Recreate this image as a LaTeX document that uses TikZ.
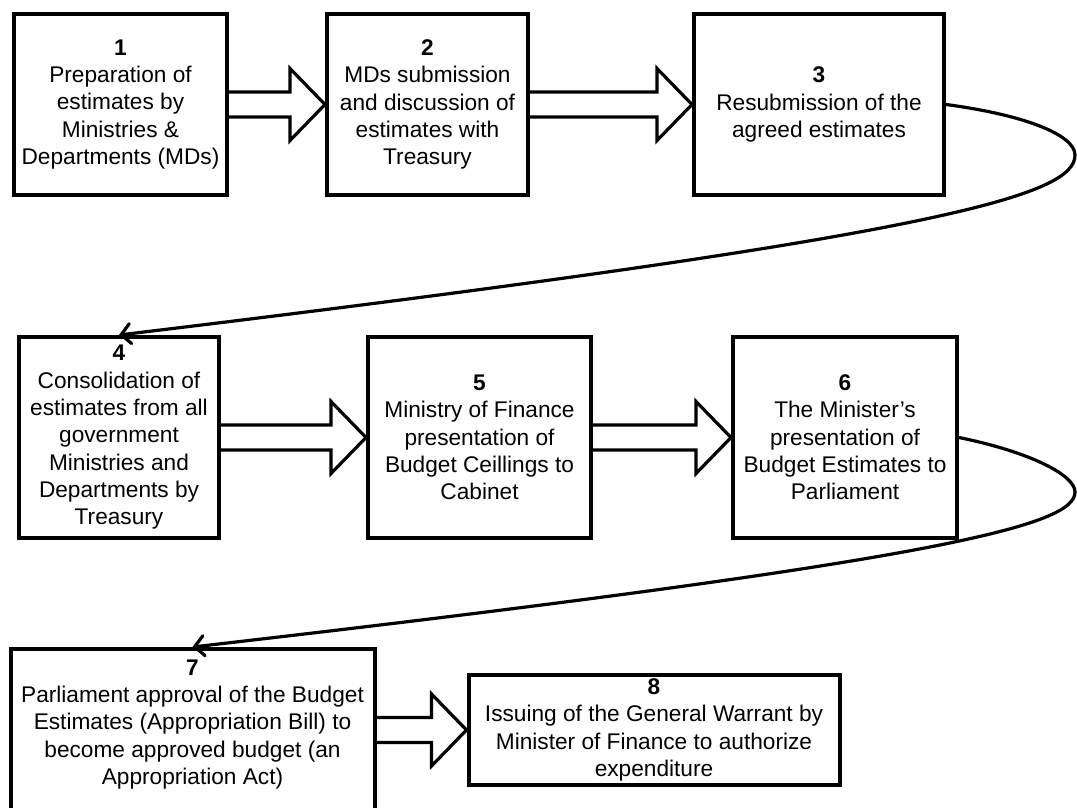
\documentclass[tikz,border=0pt]{standalone}
\usepackage{fontspec}
\setmainfont{Liberation Sans}
\usepackage{tikz}
\usetikzlibrary{positioning,calc,arrows.meta}
\tikzset{
  stage/.style={draw=black,line width=3pt,align=center,inner sep=2pt,
    font=\fontsize{17}{20.5}\selectfont},
  toprow/.style={stage,minimum height=135.75pt},
  midrow/.style={stage,minimum height=150.75pt},
  fatarrow/.style={draw=black,line width=2.4pt,line join=miter},
  loopback/.style={draw=black,line width=2.4pt,line cap=round,
    -{Straight Barb[length=7pt,width=15pt,line cap=round]}}
}
\newcommand{\blockarrow}[2]{%
  \draw[fatarrow] ($(#1.east |- #2.west)+(0,12.5)$) -- ($(#2.west)+(-35,12.5)$)
    -- ($(#2.west)+(-35,36)$) -- (#2.west) -- ($(#2.west)+(-35,-36)$)
    -- ($(#2.west)+(-35,-12.5)$) -- ($(#1.east |- #2.west)+(0,-12.5)$);}

\begin{document}
\begin{tikzpicture}[x=0.75pt,y=-0.75pt]
  \useasboundingbox (0,0) rectangle (1077,807);
  \clip (0,0) rectangle (1077,807);
  \node[toprow,minimum width=159.75pt] (b1) at (120.5,104.5)
    {\textbf{1}\\Preparation of\\estimates by\\Ministries \&\\Departments (MDs)};
  \node[toprow,minimum width=150.75pt,right=72pt of b1] (b2)
    {\textbf{2}\\MDs submission\\and discussion of\\estimates with\\Treasury};
  \node[toprow,minimum width=187.5pt,right=121.5pt of b2] (b3)
    {\textbf{3}\\Resubmission of the\\agreed estimates};
  \node[midrow,minimum width=150pt] (b4) at (119,437.5)
    {\textbf{4}\\Consolidation of\\estimates from all\\government\\Ministries and\\Departments by\\Treasury};
  \node[midrow,minimum width=167.25pt,right=108.75pt of b4] (b5)
    {\textbf{5}\\Ministry of Finance\\presentation of\\Budget Ceillings to\\Cabinet};
  \node[midrow,minimum width=168pt,right=103.5pt of b5] (b6)
    {\textbf{6}\\The Minister’s\\presentation of\\Budget Estimates to\\Parliament};
  \node[stage,anchor=north,minimum width=273pt,inner ysep=8pt,text depth=60pt] (b7) at (192.5,647)
    {\textbf{7}\\Parliament approval of the Budget\\Estimates (Appropriation Bill) to\\become approved budget (an\\Appropriation Act)};
  \node[stage,minimum width=278.25pt,minimum height=82.5pt] (b8) at (654,730)
    {\textbf{8}\\Issuing of the General Warrant by\\Minister of Finance to authorize\\expenditure};
  \blockarrow{b1}{b2}
  \blockarrow{b2}{b3}
  \blockarrow{b4}{b5}
  \blockarrow{b5}{b6}
  \blockarrow{b7}{b8}
  \draw[loopback] (b3.east) .. controls (1025,115) and (1075,135) .. (1075,155)
    .. controls (1075,195) and (950,235) .. (b4.north);
  \draw[loopback] (b6.east) .. controls (1030,452) and (1075,475) .. (1075,492)
    .. controls (1075,525) and (950,560) .. (b7.north);
\end{tikzpicture}
\end{document}
